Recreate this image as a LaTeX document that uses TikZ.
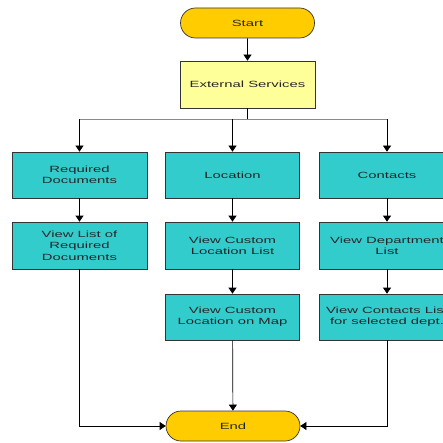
\documentclass[tikz,border=0pt]{standalone}
\usepackage{fontspec}
\setmainfont{Liberation Sans}[FakeStretch=1.65]
\usetikzlibrary{arrows.meta,shapes.misc}
\definecolor{termfill}{HTML}{FFCC00}
\definecolor{svcfill}{HTML}{FFFF99}
\definecolor{stepfill}{HTML}{33CCCC}
\definecolor{busgray}{HTML}{8A8A8A}
\tikzset{
  every node/.style={font=\fontsize{9}{11.3}\selectfont, text=black!85, align=center, inner sep=0pt},
  terminal/.style={rounded rectangle, draw=black!80, line width=0.7pt, fill=termfill,
    minimum width=134pt, minimum height=30pt},
  svcbox/.style={rectangle, draw=black!80, line width=0.7pt, fill=svcfill,
    minimum width=135pt, minimum height=47pt},
  stepbox/.style={rectangle, draw=black!80, line width=0.7pt, fill=stepfill,
    minimum width=134pt, minimum height=46pt},
  flow/.style={draw=black, line width=0.7pt, -{Triangle[length=6pt,width=8pt]}},
  plain/.style={draw=black, line width=0.7pt},
}
\begin{document}
\begin{tikzpicture}[x=1pt,y=-1pt]
\useasboundingbox (0,0) rectangle (443,443);
\fill[white] (0,0) rectangle (443,443);
\clip (0,0) rectangle (443,443);

% terminals and service box
\node[terminal] (start) at (247.5,23) {Start};
\node[svcbox] (ext) at (247.5,84.5) {External Services};

% first row
\node[stepbox, minimum width=135pt] (req) at (79.5,175) {Required\\Documents};
\node[stepbox] (loc) at (232.5,175) {Location};
\node[stepbox, minimum width=136pt] (con) at (387,175) {Contacts};

% second row
\node[stepbox, minimum width=135pt, minimum height=47pt] (reqlist) at (79.5,245.5) {View List of\\Required\\Documents};
\node[stepbox, minimum height=47pt] (loclist) at (232.5,245.5) {View Custom\\Location List};
\node[stepbox, minimum width=136pt, minimum height=47pt] (deplist) at (387,245.5) {View Department\\List};

% third row
\node[stepbox] (locmap) at (232.5,317) {View Custom\\Location on Map};
\node[stepbox, minimum width=136pt] (conlist) at (387,317) {View Contacts List\\for selected dept.};

\node[terminal] (end) at (233,426) {End};

% branch bus below the service box
\coordinate (bus) at (247.5,119.5);
\coordinate (busL) at (req.north |- bus);
\coordinate (busM) at (loc.north |- bus);
\coordinate (busR) at (con.north |- bus);
\draw[plain] (ext.south) -- (bus);
\draw[draw=busgray, line width=0.7pt] (busL) -- (busR);
\draw[flow] (busL) -- (req.north);
\draw[flow] (busM) -- (loc.north);
\draw[flow] (busR) -- (con.north);

\draw[flow] (start) -- (ext);
\draw[flow] (req) -- (reqlist);
\draw[flow] (loc) -- (loclist);
\draw[flow] (con) -- (deplist);
\draw[flow] (loclist) -- (locmap);
\draw[flow] (deplist) -- (conlist);

% joins into the end terminal
\draw[flow] (locmap) -- (end);
\draw[flow] (reqlist.south) |- (end.west);
\draw[flow] (conlist.south) |- (end.east);
\end{tikzpicture}
\end{document}
